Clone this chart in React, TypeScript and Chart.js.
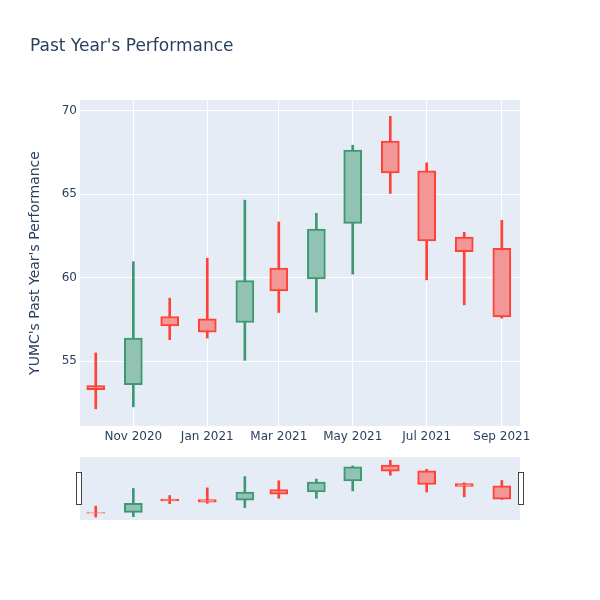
import { useEffect, useRef } from "react";
import { Chart, registerables } from "chart.js";

Chart.register(...registerables);

// ---- Data ----
const dates = [
  "2020-10-01", "2020-11-01", "2020-12-01", "2021-01-01", "2021-02-01", "2021-03-01",
  "2021-04-01", "2021-05-01", "2021-06-01", "2021-07-01", "2021-08-01", "2021-09-01",
];
const openValues = [53.52, 53.58, 57.67, 57.53, 57.31, 60.58, 59.93, 63.26, 68.2, 66.41, 62.44, 61.76];
const highValues = [55.48, 60.96, 58.77, 61.16, 64.65, 63.34, 63.86, 67.95, 69.68, 66.89, 62.72, 63.44];
const lowValues = [52.13, 52.25, 56.28, 56.38, 55.04, 57.91, 57.93, 60.21, 65.05, 59.87, 58.37, 57.57];
const closeValues = [53.28, 56.38, 57.11, 56.73, 59.83, 59.21, 62.92, 67.65, 66.29, 62.2, 61.56, 57.65];

const xTickDates = ["2020-11-01", "2021-01-01", "2021-03-01", "2021-05-01", "2021-07-01", "2021-09-01"];
const xTickLabels = ["Nov 2020", "Jan 2021", "Mar 2021", "May 2021", "Jul 2021", "Sep 2021"];
const yTickValues = [55, 60, 65, 70];

const xRangeStart = "2020-09-18";
const xRangeEnd = "2021-09-16";

const chartTitle = "Past Year's Performance";
const yAxisTitle = "YUMC's Past Year's Performance";

// ---- Helpers ----
const ORIGIN = Date.UTC(2020, 9, 1);
const dayOf = (s: string) => {
  const [y, m, d] = s.split("-").map(Number);
  return (Date.UTC(y, m - 1, d) - ORIGIN) / 86400000;
};

const INC_LINE = "#3D9970";
const INC_FILL = "#91C2B3";
const DEC_LINE = "#FF4136";
const DEC_FILL = "#F29696";
const TEXT = "#2a3f5f";
const FONT = "'DejaVu Sans', Verdana, Arial, sans-serif";
const PLOT_BG = "#E5ECF6";

const isUp = (i: number) => closeValues[i] >= openValues[i];

function buildDatasets(bodyThickness: number, wickWidth: number) {
  const xs = dates.map(dayOf);
  return [
    {
      label: "body",
      data: xs.map((x, i) => ({ x, y: [openValues[i], closeValues[i]] })),
      backgroundColor: xs.map((_, i) => (isUp(i) ? INC_FILL : DEC_FILL)),
      borderColor: xs.map((_, i) => (isUp(i) ? INC_LINE : DEC_LINE)),
      borderWidth: 2,
      borderSkipped: false,
      barThickness: bodyThickness,
      grouped: false,
      order: 1,
    },
    {
      label: "wick",
      data: xs.map((x, i) => ({ x, y: [lowValues[i], highValues[i]] })),
      backgroundColor: xs.map((_, i) => (isUp(i) ? INC_LINE : DEC_LINE)),
      borderWidth: 0,
      barThickness: wickWidth,
      grouped: false,
      order: 2,
    },
  ];
}

const bgPlugin = {
  id: "plotBg",
  beforeDraw(chart: any) {
    const { ctx, chartArea } = chart;
    ctx.save();
    ctx.fillStyle = PLOT_BG;
    ctx.fillRect(chartArea.left, chartArea.top, chartArea.right - chartArea.left, chartArea.bottom - chartArea.top);
    ctx.restore();
  },
};

const titlePlugin = {
  id: "mainTitle",
  afterDraw(chart: any) {
    const { ctx } = chart;
    ctx.save();
    ctx.fillStyle = TEXT;
    ctx.font = `17px ${FONT}`;
    ctx.textBaseline = "alphabetic";
    ctx.textAlign = "left";
    ctx.fillText(chartTitle, 30, 50.5);
    ctx.restore();
  },
};

const handlesPlugin = {
  id: "sliderHandles",
  afterDraw(chart: any) {
    const { ctx, chartArea } = chart;
    const cy = (chartArea.top + chartArea.bottom) / 2;
    ctx.save();
    ctx.fillStyle = "#ffffff";
    ctx.strokeStyle = "#444444";
    ctx.lineWidth = 1;
    [chartArea.left - 1, chartArea.right + 1].forEach((cx: number) => {
      ctx.fillRect(cx - 2.5, cy - 16, 5, 32);
      ctx.strokeRect(cx - 2.5, cy - 16, 5, 32);
    });
    ctx.restore();
  },
};

export default function App() {
  const mainRef = useRef<HTMLCanvasElement | null>(null);
  const sliderRef = useRef<HTMLCanvasElement | null>(null);

  useEffect(() => {
    const xMin = dayOf(xRangeStart);
    const xMax = dayOf(xRangeEnd);
    const tickFont = { family: FONT, size: 12 };

    const main = new Chart(mainRef.current as HTMLCanvasElement, {
      type: "bar",
      data: { datasets: buildDatasets(18, 2) as any },
      options: {
        responsive: false,
        animation: false,
        layout: { padding: { left: 0, right: 80, top: 100, bottom: 144 } },
        plugins: { legend: { display: false }, tooltip: { enabled: false } },
        scales: {
          x: {
            type: "linear",
            min: xMin,
            max: xMax,
            offset: false,
            grid: { color: "#ffffff", lineWidth: 1, drawTicks: false, offset: false },
            border: { display: false },
            ticks: {
              padding: 4,
              font: tickFont,
              color: TEXT,
              maxRotation: 0,
              autoSkip: false,
              callback: (_v: any, i: number) => xTickLabels[i],
            },
            afterBuildTicks: (s: any) => {
              s.ticks = xTickDates.map((d) => ({ value: dayOf(d) }));
            },
            afterFit: (s: any) => {
              s.height = 30;
            },
          } as any,
          y: {
            type: "linear",
            min: 51.1,
            max: 70.66,
            beginAtZero: false,
            grid: { color: "#ffffff", lineWidth: 1, drawTicks: false },
            border: { display: false },
            ticks: {
              padding: 3,
              font: tickFont,
              color: TEXT,
              callback: (v: any) => String(v),
            },
            afterBuildTicks: (s: any) => {
              s.ticks = yTickValues.map((v) => ({ value: v }));
            },
            afterFit: (s: any) => {
              s.width = 80;
            },
            title: {
              display: true,
              text: yAxisTitle,
              color: TEXT,
              font: { family: FONT, size: 14 },
              padding: { top: 27, bottom: 0 },
            },
          } as any,
        },
      },
      plugins: [bgPlugin, titlePlugin],
    });

    const slider = new Chart(sliderRef.current as HTMLCanvasElement, {
      type: "bar",
      data: { datasets: buildDatasets(18, 2) as any },
      options: {
        responsive: false,
        animation: false,
        layout: { padding: { left: 80, right: 80, top: 7, bottom: 10 } },
        plugins: { legend: { display: false }, tooltip: { enabled: false } },
        scales: {
          x: { type: "linear", min: xMin, max: xMax, display: false, offset: false, grid: { offset: false } } as any,
          y: { type: "linear", min: 51.2, max: 70.7, display: false, beginAtZero: false } as any,
        },
      },
      plugins: [bgPlugin, handlesPlugin],
    });

    return () => {
      main.destroy();
      slider.destroy();
    };
  }, []);

  return (
    <div style={{ position: "absolute", left: 0, top: 0, width: 600, height: 600, background: "#ffffff" }}>
      <canvas
        ref={mainRef}
        width={600}
        height={600}
        style={{ position: "absolute", left: 0, top: 0, display: "block" }}
      />
      <canvas
        ref={sliderRef}
        width={600}
        height={80}
        style={{ position: "absolute", left: 0, top: 450, display: "block" }}
      />
    </div>
  );
}
